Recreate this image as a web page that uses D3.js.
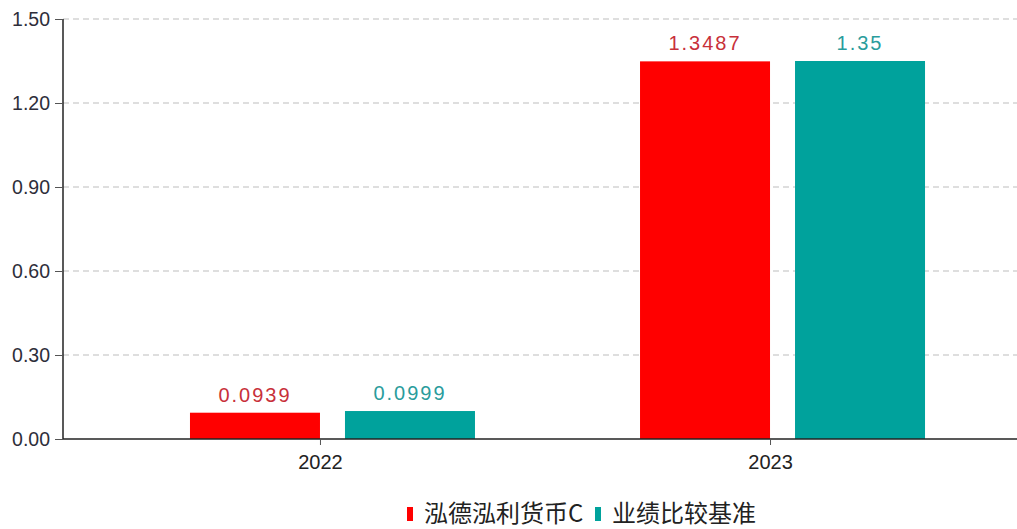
<!DOCTYPE html>
<html><head><meta charset="utf-8">
<script src="https://cdn.jsdelivr.net/npm/d3@7"></script>
<style>html,body{margin:0;padding:0;background:#fff;}svg{display:block;}</style>
</head><body><svg id="c" width="1017" height="529"></svg>
<script>
const categories = ["2022", "2023"];
const seriesNames = ["泓德泓利货币C", "业绩比较基准"];
const fundValues = [0.0939, 1.3487];
const benchValues = [0.0999, 1.35];
const yTicks = [0, 0.3, 0.6, 0.9, 1.2, 1.5];
const barColors = ["#ff0000", "#00a29c"];
const labelColors = ["#c8303a", "#2a9c9c"];

(function () {
const svg = d3.select("#c");
const pL = 63, pR = 1027, pT = 19, pB = 439;
const x = d3.scalePoint().domain(categories).range([pL, pR]).padding(0.571);
const y = d3.scaleLinear().domain([0, 1.5]).range([pB, pT]);
const sub = d3.scaleBand().domain([0, 1]).range([-130, 155]).paddingInner(25 / 155);

// grid
svg.append("g").selectAll("line").data(yTicks.filter(d => d > 0)).join("line")
  .attr("x1", pL).attr("x2", 1017).attr("y1", d => y(d)).attr("y2", d => y(d))
  .attr("stroke", "#bdbdbd").attr("stroke-width", 1).attr("stroke-dasharray", "6,4");

// bars
const series = [fundValues, benchValues];
series.forEach((vals, si) => {
  svg.append("g").selectAll("rect").data(categories).join("rect")
    .attr("x", (c) => x(c) + sub(si))
    .attr("width", sub.bandwidth())
    .attr("y", (c, i) => y(vals[i]))
    .attr("height", (c, i) => y(0) - y(vals[i]))
    .attr("fill", barColors[si]);
  svg.append("g").selectAll("text").data(categories).join("text")
    .attr("x", (c) => x(c) + sub(si) + sub.bandwidth() / 2)
    .attr("y", (c, i) => y(vals[i]) - 11)
    .attr("text-anchor", "middle")
    .attr("font-family", "Liberation Sans, Arial, sans-serif")
    .attr("font-size", 20).attr("letter-spacing", 2)
    .attr("fill", labelColors[si])
    .text((c, i) => String(vals[i]));
});

// y axis
const yAxis = d3.axisLeft(y).tickValues(yTicks).tickFormat(d3.format(".2f")).tickSize(8).tickPadding(5);
const gy = svg.append("g").attr("transform", `translate(${pL},0)`).call(yAxis);
gy.select(".domain").attr("stroke", "#222").attr("stroke-width", 1.5).attr("d", `M0,${pT}V${pB}`);
gy.selectAll(".tick line").attr("stroke", "#555");
gy.selectAll(".tick text").attr("font-family", "Liberation Sans, Arial, sans-serif").attr("font-size", 19.5).attr("fill", "#2e2e3a");

// x axis
const xAxis = d3.axisBottom(x).tickSize(6).tickPadding(10);
const gx = svg.append("g").attr("transform", `translate(0,${pB})`).call(xAxis);
gx.select(".domain").attr("stroke", "#222").attr("stroke-width", 1.5).attr("d", `M${pL},0H1017`);
gx.selectAll(".tick line").attr("stroke", "#555");
gx.selectAll(".tick text").attr("font-family", "Liberation Sans, Arial, sans-serif").attr("font-size", 20).attr("fill", "#222");

// legend
const legendX = [407, 595];
const lg = svg.append("g");
seriesNames.forEach((n, i) => {
  lg.append("rect").attr("x", legendX[i]).attr("y", 507).attr("width", 6).attr("height", 14).attr("fill", barColors[i]);
  lg.append("text").attr("x", legendX[i] + 17).attr("y", 522)
    .attr("font-family", "Noto Sans CJK SC, sans-serif").attr("font-size", 24).attr("fill", "#222")
    .text(n);
});
})();
</script></body></html>
